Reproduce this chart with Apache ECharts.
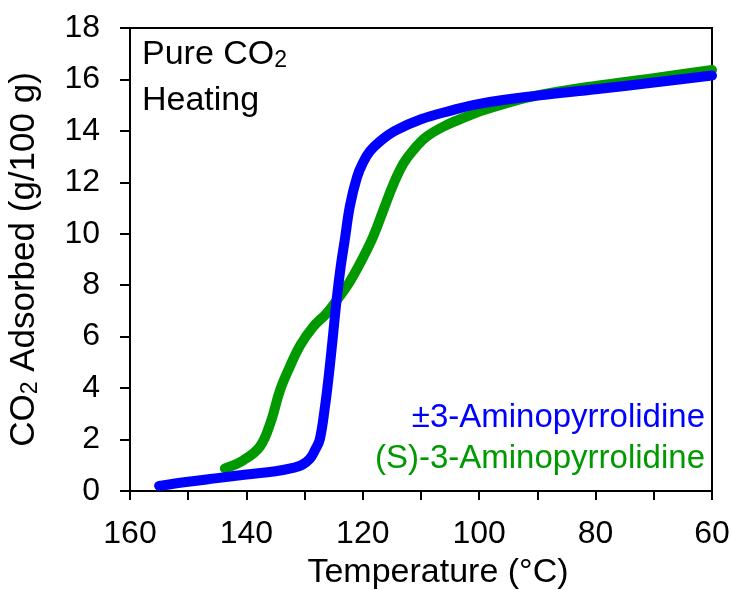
<!DOCTYPE html>
<html>
<head>
<meta charset="utf-8">
<script src="https://cdn.jsdelivr.net/npm/echarts@6/dist/echarts.min.js"></script>
<style>
  html, body { margin: 0; padding: 0; background: #ffffff; }
  #chart { width: 732px; height: 590px; }
</style>
</head>
<body>
<div id="chart"></div>
<script>
// Heating run under pure CO2: uptake vs. temperature for two amine-appended samples
const racemicTemp = [155, 150, 145, 140, 135, 132, 130.4, 129.1, 128.2, 127.4, 126.5, 125.8, 125.2, 124.5, 123.8, 123.1, 122.2, 121.0, 120.0, 118.8, 117.0, 114.5, 110, 105, 100, 90, 80, 70, 60];
const racemicCO2  = [0.2, 0.36, 0.5, 0.64, 0.77, 0.9, 1.02, 1.25, 1.6, 2.0, 3.28, 4.58, 5.87, 7.43, 8.72, 9.76, 11.1, 12.2, 12.75, 13.2, 13.6, 14.0, 14.45, 14.78, 15.05, 15.37, 15.62, 15.88, 16.15];

const sTemp = [143.7, 140.5, 137.7, 135.9, 134.2, 132.5, 130.8, 128.5, 126.2, 124.2, 122.2, 119.9, 118.2, 116.5, 114.8, 113.0, 111.3, 109.0, 105.6, 102.2, 100, 95, 90, 80, 70, 60];
const sCO2  = [0.88, 1.2, 1.72, 2.63, 3.93, 4.85, 5.65, 6.39, 6.91, 7.5, 8.15, 9.1, 9.9, 10.9, 11.9, 12.74, 13.26, 13.78, 14.23, 14.55, 14.75, 15.1, 15.38, 15.75, 16.05, 16.37];

const xTicks = { min: 60, max: 160, step: 10, labelEvery: 20 };
const yTicks = { min: 0, max: 18, step: 2 };

const seriesNames = ['±3-Aminopyrrolidine', '(S)-3-Aminopyrrolidine'];
const BLUE = '#0000ff';
const GREEN = '#009900';
const FONT = '"Liberation Sans", Arial, sans-serif';

const pairs = (xs, ys) => xs.map((x, i) => [x, ys[i]]);

const subRich = (size, subSize, color) => ({
  a: { fontSize: size, fontFamily: FONT, color: color },
  s: { fontSize: subSize, fontFamily: FONT, color: color, lineHeight: 6, verticalAlign: 'bottom' }
});

const chart = echarts.init(document.getElementById('chart'), null, { renderer: 'canvas' });

chart.setOption({
  animation: false,
  backgroundColor: '#ffffff',
  grid: {
    left: 130, right: 20, top: 28, bottom: 99,
    containLabel: false,
    outerBoundsMode: 'none',
    show: true, borderColor: '#000', borderWidth: 2, backgroundColor: 'transparent'
  },
  xAxis: {
    type: 'value',
    inverse: true,
    min: xTicks.min, max: xTicks.max, interval: xTicks.step,
    name: 'Temperature (°C)',
    nameLocation: 'middle',
    nameGap: 65,
    nameTextStyle: { fontSize: 34, fontFamily: FONT, color: '#000', padding: [0, 0, 0, 34] },
    axisLine: { show: true, onZero: false, lineStyle: { color: '#000', width: 2 } },
    axisTick: { show: true, inside: false, length: 9, lineStyle: { color: '#000', width: 2 } },
    axisLabel: {
      fontSize: 32, fontFamily: FONT, color: '#000', margin: 27,
      formatter: v => (v % xTicks.labelEvery === 0 ? String(v) : '')
    },
    splitLine: { show: false }
  },
  yAxis: {
    type: 'value',
    min: yTicks.min, max: yTicks.max, interval: yTicks.step,
    name: '{a|CO}{s|2}{a| Adsorbed (g/100 g)}',
    nameLocation: 'middle',
    nameGap: 88,
    nameRotate: 90,
    nameTextStyle: { rich: subRich(35, 23, '#000') },
    axisLine: { show: true, onZero: false, lineStyle: { color: '#000', width: 2 } },
    axisTick: { show: true, inside: false, length: 10, lineStyle: { color: '#000', width: 2 } },
    axisLabel: { fontSize: 32, fontFamily: FONT, color: '#000', margin: 30 },
    splitLine: { show: false }
  },
  series: [
    {
      name: seriesNames[1],
      type: 'line',
      data: pairs(sTemp, sCO2),
      smooth: 0.4,
      symbol: 'none',
      lineStyle: { color: GREEN, width: 10, cap: 'round', join: 'round' },
      z: 2
    },
    {
      name: seriesNames[0],
      type: 'line',
      data: pairs(racemicTemp, racemicCO2),
      smooth: 0.4,
      symbol: 'none',
      lineStyle: { color: BLUE, width: 10, cap: 'round', join: 'round' },
      z: 3
    }
  ],
  graphic: [
    {
      type: 'text', x: 142, y: 55, z: 10,
      style: { text: '{a|Pure CO}{s|2}', rich: subRich(34, 23, '#000'), align: 'left', verticalAlign: 'middle' }
    },
    {
      type: 'text', x: 142, y: 101, z: 10,
      style: { text: 'Heating', fontSize: 34, fontFamily: FONT, fill: '#000', align: 'left', verticalAlign: 'middle' }
    },
    {
      type: 'text', x: 705, y: 418, z: 10,
      style: { text: seriesNames[0], fontSize: 33, fontFamily: FONT, fill: BLUE, align: 'right', verticalAlign: 'middle' }
    },
    {
      type: 'text', x: 705, y: 459, z: 10,
      style: { text: seriesNames[1], fontSize: 33, fontFamily: FONT, fill: GREEN, align: 'right', verticalAlign: 'middle' }
    }
  ]
});
</script>
</body>
</html>
